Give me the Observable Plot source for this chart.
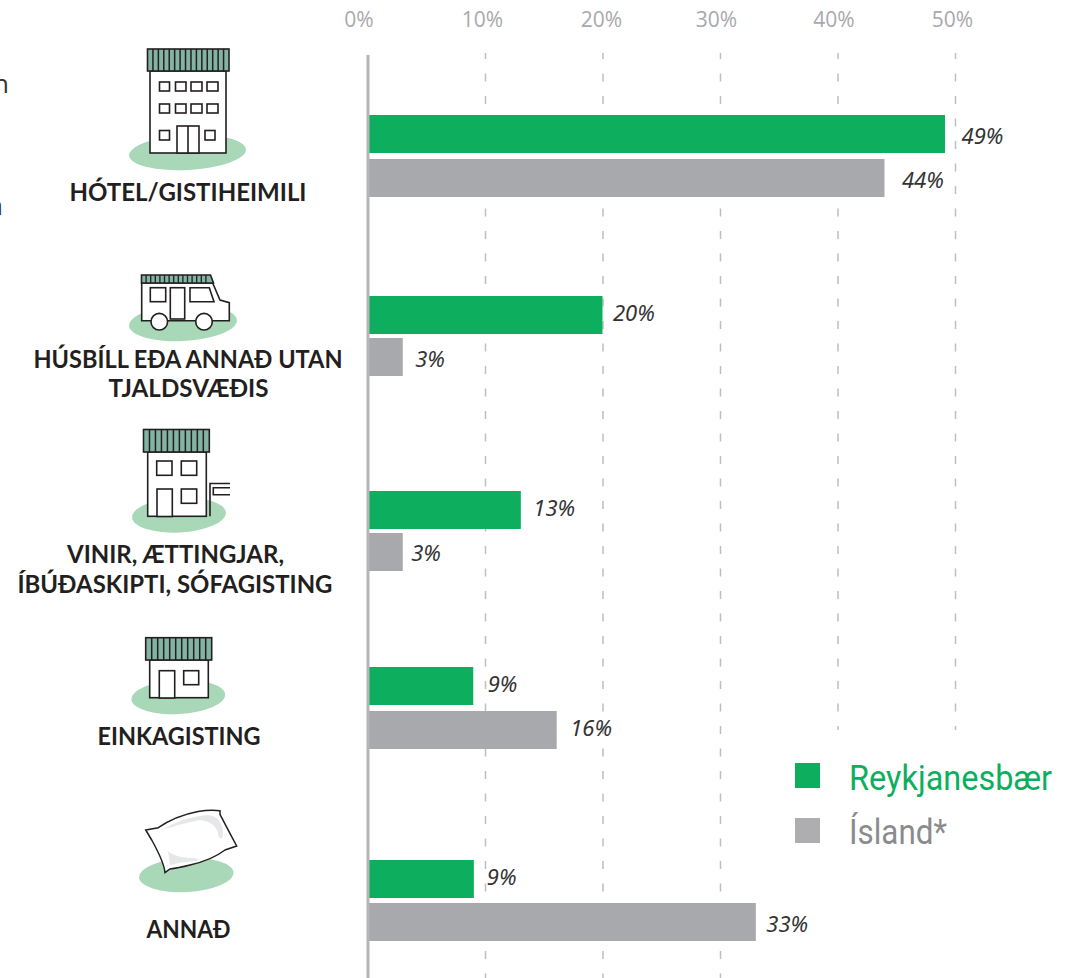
<!DOCTYPE html>
<html lang="is">
<head>
<meta charset="utf-8">
<script src="https://cdn.jsdelivr.net/npm/d3@7"></script>
<script src="https://cdn.jsdelivr.net/npm/@observablehq/plot@0.6"></script>
<style>
html,body{margin:0;padding:0;background:#fff;overflow:hidden}
svg{display:block}
</style>
</head>
<body>
<div id="chart"></div>
<script>
// ---- data ----
const categories = ["HÓTEL/GISTIHEIMILI", "HÚSBÍLL EÐA ANNAÐ UTAN TJALDSVÆÐIS", "VINIR, ÆTTINGJAR, ÍBÚÐASKIPTI, SÓFAGISTING", "EINKAGISTING", "ANNAÐ"];
const reykjanesbaer = [49.15, 20, 13.05, 9, 9.05];
const island = [44, 3, 3, 16.1, 33.05];
const reykjanesbaerLabels = ["49%", "20%", "13%", "9%", "9%"];
const islandLabels = ["44%", "3%", "3%", "16%", "33%"];
const xTicks = [0, 10, 20, 30, 40, 50];
const seriesNames = ["Reykjanesbær", "Ísland*"];

// ---- styling / layout (not data) ----
const GREEN = "#0daf5e", GREY = "#a7a9ac", INK = "#231f20", MINT = "#a9d8b8", ROOF = "#82b3a3";
const rowEdges = [115,153,159,197, 296,334,338,376, 491,529,533,571, 667,705,711,749, 860,898,903,941];
const gapGreen = [16, 10, 12, 14, 12.5];
const gapGrey = [17, 12, 8, 13, 10];
const liftGreen = [2, -2, -2, -2, -2];
const liftGrey = [2, 2, 1, -2, 2];
const tickShift = [-9, -3, -1.5, -4, -4, -3];
const catLines = [
  {t:"HÓTEL/GISTIHEIMILI", x:187.5, y:200, w:237},
  {t:"HÚSBÍLL EÐA ANNAÐ UTAN", x:187.5, y:367, w:309},
  {t:"TJALDSVÆÐIS", x:188, y:396, w:160},
  {t:"VINIR, ÆTTINGJAR,", x:175, y:562, w:217},
  {t:"ÍBÚÐASKIPTI, SÓFAGISTING", x:174.5, y:592, w:315},
  {t:"EINKAGISTING", x:178.5, y:744.5, w:163},
  {t:"ANNAÐ", x:188, y:937, w:84}
];
const bars = [];
categories.forEach((c, i) => {
  bars.push({category:c, series:seriesNames[0], value:reykjanesbaer[i], label:reykjanesbaerLabels[i], row:2*i, gap:gapGreen[i], lift:liftGreen[i]});
  bars.push({category:c, series:seriesNames[1], value:island[i], label:islandLabels[i], row:2*i+1, gap:gapGrey[i], lift:liftGrey[i]});
});
const px = v => ({value: () => v, scale: null});
const chart = Plot.plot({
  width: 1072, height: 978,
  marginTop: 30, marginLeft: 0, marginRight: 0, marginBottom: 0,
  style: {background: "#fff", fontFamily: "'Open Sans', sans-serif"},
  x: {domain: [0, 50], range: [367.5, 955], label: null},
  y: {type: "linear", domain: rowEdges.map((_, i) => i), range: rowEdges, axis: null},
  color: {domain: seriesNames, range: [GREEN, GREY]},
  marks: [
    Plot.ruleX(xTicks.filter(d => d > 0 && d <= 30), {x: d => d, y1: px(53), y2: px(978), stroke: "#bcbec0", strokeWidth: 1.5, strokeDasharray: "8 14.5", strokeDashoffset: 2}),
    Plot.ruleX(xTicks.filter(d => d > 30), {x: d => d, y1: px(53), y2: px(730), stroke: "#bcbec0", strokeWidth: 1.5, strokeDasharray: "8 14.5", strokeDashoffset: 2}),
    Plot.rect(bars, {x1: 0, x2: "value", y1: d => 2*d.row, y2: d => 2*d.row + 1, fill: "series", inset: 0}),
    Plot.ruleX([0], {y1: px(55), y2: px(978), stroke: "#b5b6b8", strokeWidth: 3}),
    Plot.axisX({anchor: "top", ticks: xTicks, tickSize: 0, tickPadding: 4, tickFormat: d => d + "%", fontSize: 21, color: GREY, label: null}),
    ...bars.map(d => Plot.text([d], {
      x: "value", y: r => 2*r.row + 0.5, dx: d.gap, dy: d.lift, text: "label", textAnchor: "start", lineAnchor: "middle",
      fontSize: 22, fontStyle: "italic", fill: "#333", fontFamily: "'Noto Sans', sans-serif"
    })),
    Plot.text(catLines, {
      x: {value: d => d.x, scale: null}, y: {value: d => d.y, scale: null}, text: "t",
      textAnchor: "middle", lineAnchor: "bottom", fontSize: 25, fontWeight: 700, fill: INK,
      fontFamily: "Lato, sans-serif"
    })
  ]
});
document.getElementById("chart").appendChild(chart);

const svg = d3.select(chart);
// tweak tick label positions
svg.selectAll("g[aria-label='x-axis tick label'] text").attr("dx", (_, i) => tickShift[i]);
// fit category text widths
svg.selectAll("text").each(function () {
  const line = catLines.find(l => l.t === this.textContent);
  if (line) d3.select(this).attr("textLength", line.w).attr("lengthAdjust", "spacingAndGlyphs");
});

// ---- illustrations ----
const art = svg.append("g").attr("aria-label", "illustrations").attr("stroke-linejoin", "miter");
function ellipse(cx, cy, rx, ry) {
  art.append("ellipse").attr("cx", cx).attr("cy", cy).attr("rx", rx).attr("ry", ry)
    .attr("fill", MINT).attr("transform", `rotate(-3 ${cx} ${cy})`);
}
function box(x0, y0, x1, y1, fill = "none", w = 1.6) {
  art.append("rect").attr("x", x0).attr("y", y0).attr("width", x1 - x0).attr("height", y1 - y0)
    .attr("fill", fill).attr("stroke", INK).attr("stroke-width", w);
}
function path(d, fill = "none", w = 1.6, stroke = INK) {
  art.append("path").attr("d", d).attr("fill", fill).attr("stroke", stroke).attr("stroke-width", w);
}
function roof(x0, y0, x1, y1, n) {
  box(x0, y0, x1, y1, ROOF, 1.6);
  let d = "";
  for (let i = 1; i < n; i++) {
    const x = x0 + (x1 - x0) * i / n;
    d += `M${x} ${y0}V${y1}`;
  }
  path(d, "none", 1.5);
}
// hotel
ellipse(187.5, 152.5, 58.5, 17.5);
box(150, 71, 226, 153, "#fff");
roof(147.5, 49, 229, 71, 15);
[[159.5,169.5],[175.5,186],[191,202],[207,218]].forEach(([a, b]) => {
  box(a, 82, b, 91, "#fff"); box(a, 104, b, 113, "#fff");
});
box(159.5, 130.5, 169.5, 140, "#fff"); box(205, 130.5, 215, 140, "#fff");
box(177, 126, 199, 153, "#fff"); path("M188 126V153");
// camper
ellipse(183, 323, 54, 18);
path("M141.7 283H212.7L220 300L229.3 302.7V320.7H141.7Z", "#fff");
art.append("path").attr("d", "M141.5 275H210.5L213.5 283H141.5Z").attr("fill", ROOF).attr("stroke", INK).attr("stroke-width", 1.6);
{
  let d = "";
  for (let i = 1; i < 15; i++) { const x = 141.5 + 69 * i / 15; d += `M${x} 275V283`; }
  path(d, "none", 1.3);
}
box(150.3, 287.7, 165.7, 301.7, "#fff");
box(170.3, 287.7, 184.7, 319, "#fff");
path("M190 287.7H209.3L214 301.7H190Z", "#fff");
[159.3, 204].forEach(cx => art.append("circle").attr("cx", cx).attr("cy", 321.7).attr("r", 8.3).attr("fill", "#fff").attr("stroke", INK).attr("stroke-width", 1.6));
// house with sign
ellipse(179, 515, 47, 17.5);
box(147.7, 452, 206.3, 516.3, "#fff");
roof(143.5, 429.5, 209.3, 452, 11);
box(156.7, 461, 172, 475.3, "#fff"); box(181.3, 461, 196.7, 475.3, "#fff");
box(181.3, 489, 196.7, 503.3, "#fff"); box(157, 489, 172.3, 516.5, "#fff");
path("M210 516.3V483.5H230");
path("M230 487.7H213.3V494.7H230");
// small house
ellipse(178.3, 697, 47, 17);
box(149.7, 660, 208.3, 697.7, "#fff");
roof(145.7, 637.7, 211.7, 660, 11);
box(159.3, 670.7, 174.7, 698, "#fff"); box(183.7, 670.7, 198.7, 684.7, "#fff");
// pillow
ellipse(186.3, 875, 47.3, 17);
path("M145.7 830L158.3 827.7Q175 816 198 811.5Q210 809.5 220 810.7L220 814.3Q225 824 236.7 846L225 850Q212 860 190 865Q178 868 170 869L165 872.7Q164 862 151.7 840Z", "#fff", 1.5);
art.append("path").attr("d", "M161.7 830Q183 817 207 815Q218 815 222 826Q224 833 222 838.5Q218 838.5 218 833Q215 822 200 820Q180 824 161.7 830Z").attr("fill", "#e6e7e8");
art.append("path").attr("d", "M168 851Q175 858 198 858.5L197 861Q180 862 170 865Q169 858 168 851Z").attr("fill", "#e6e7e8");

// clipped fragments of neighbouring text
[["n", 9, 93], ["a", 3, 215]].forEach(([t, x, y]) => {
  svg.append("text").text(t).attr("x", x).attr("y", y).attr("text-anchor", "end")
    .attr("font-family", "'Open Sans', sans-serif").attr("font-size", 26).attr("font-weight", 400).attr("fill", "#333");
});

// ---- legend ----
const legend = svg.append("g").attr("aria-label", "legend");
[{name: seriesNames[0], sq: GREEN, tc: GREEN, sy: 763, by: 790, w: 203},
 {name: seriesNames[1], sq: "#aeaeb0", tc: "#8a8b8d", sy: 818, by: 844, w: 98}].forEach(l => {
  legend.append("rect").attr("x", 795).attr("y", l.sy).attr("width", 25).attr("height", 25).attr("fill", l.sq);
  legend.append("text").text(l.name).attr("x", 849).attr("y", l.by).attr("fill", l.tc)
    .attr("text-anchor", "start")
    .attr("font-family", "Roboto, sans-serif").attr("font-size", 35)
    .attr("textLength", l.w).attr("lengthAdjust", "spacingAndGlyphs");
});
</script>
</body>
</html>
